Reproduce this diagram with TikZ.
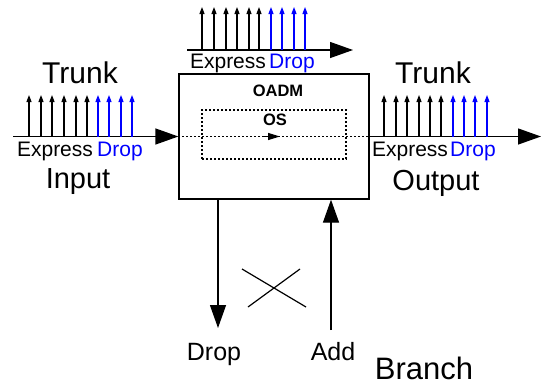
\documentclass[tikz,border=0pt]{standalone}
\usepackage{fontspec}
\setmainfont{Liberation Sans}
\usetikzlibrary{arrows.meta}
\definecolor{dropblue}{RGB}{0,0,255}
\begin{document}
\begin{tikzpicture}[x=1pt,y=-1pt,
 bigarrow/.style={line width=1.3pt,-{Triangle[length=23pt,width=16pt]}},
 chan/.style={line width=1.1pt,-{Triangle[length=7pt,width=5pt]}},
 lbl/.style={anchor=base,inner sep=0pt,font=\fontsize{21}{21}\selectfont},
 midlbl/.style={anchor=base,inner sep=0pt,font=\fontsize{25}{25}\selectfont},
 big/.style={anchor=base,inner sep=0pt,font=\fontsize{29}{29}\selectfont},
 boldlbl/.style={anchor=base,inner sep=0pt,font=\fontsize{16.5}{16.5}\selectfont\bfseries},
 dotline/.style={line width=1.3pt,dash pattern=on 2pt off 2pt}]
\useasboundingbox (0,0) rectangle (541,383);
% main box
\node[draw,line width=1.3pt,minimum width=190pt,minimum height=125pt,inner sep=0pt] (oadm) at (274,136.5) {};
\node[boldlbl] (oadmlbl) at (278,96) {OADM};
% optical switch
\node[draw,dotline,minimum width=144pt,minimum height=49pt,inner sep=0pt] (os) at (274,134.5) {};
\node[boldlbl] (oslbl) at (275,125) {OS};
\draw[dotline] (oadm.west) -- (oadm.east);
\coordinate (osA) at (264,136.5);
\coordinate (osB) at (280,136.5);
\draw[line width=1.2pt,-{Triangle[length=12pt,width=7pt]}] (osA) -- (osB);
% input trunk
\coordinate (inS) at (13,136.5);
\draw[bigarrow] (inS) -- (oadm.west);
\foreach \x in {29,41,52,64,76,87} \draw[chan] (\x,136.5) -- (\x,95);
\foreach \x in {98,109,121,132} \draw[chan,dropblue] (\x,136.5) -- (\x,95);
\node[big,font=\fontsize{30}{30}\selectfont] (trunkL) at (80,83) {Trunk};
\node[lbl] (expL) at (55,156) {Express};
\node[lbl,text=dropblue] (dropL) at (120,156) {Drop};
\node[big] (inputL) at (78,188) {Input};
% top trunk
\coordinate (topS) at (187,50);
\coordinate (topE) at (353,50);
\draw[bigarrow] (topS) -- (topE);
\foreach \x in {202,214,226,237,249,259} \draw[chan] (\x,50) -- (\x,7);
\foreach \x in {271,282,294,305} \draw[chan,dropblue] (\x,50) -- (\x,7);
\node[lbl] (expT) at (228,68) {Express};
\node[lbl,text=dropblue] (dropT) at (292,68) {Drop};
% output trunk
\coordinate (outE) at (541,136.5);
\draw[bigarrow] (oadm.east) -- (outE);
\foreach \x in {384,396,407,419,430,441} \draw[chan] (\x,136.5) -- (\x,95);
\foreach \x in {453,464,475,487} \draw[chan,dropblue] (\x,136.5) -- (\x,95);
\node[big,font=\fontsize{30}{30}\selectfont] (trunkR) at (433,83) {Trunk};
\node[lbl] (expR) at (410,156) {Express};
\node[lbl,text=dropblue] (dropR) at (473,156) {Drop};
\node[big] (outputR) at (436,190) {Output};
% branch
\coordinate (dropE) at (218,328);
\draw[bigarrow] (oadm.south -| dropE) -- (dropE);
\coordinate (addS) at (331,330);
\draw[bigarrow] (addS) -- (addS |- oadm.south);
\coordinate (xa) at (242,269);
\coordinate (xb) at (306,307);
\coordinate (xc) at (248,307);
\coordinate (xd) at (300,269);
\draw[line width=1.2pt] (xa) -- (xb);
\draw[line width=1.2pt] (xc) -- (xd);
\node[midlbl] (dropB) at (214,360) {Drop};
\node[midlbl] (addB) at (333,360) {Add};
\node[big,font=\fontsize{31}{31}\selectfont] (branch) at (424,379) {Branch};
\end{tikzpicture}
\end{document}
